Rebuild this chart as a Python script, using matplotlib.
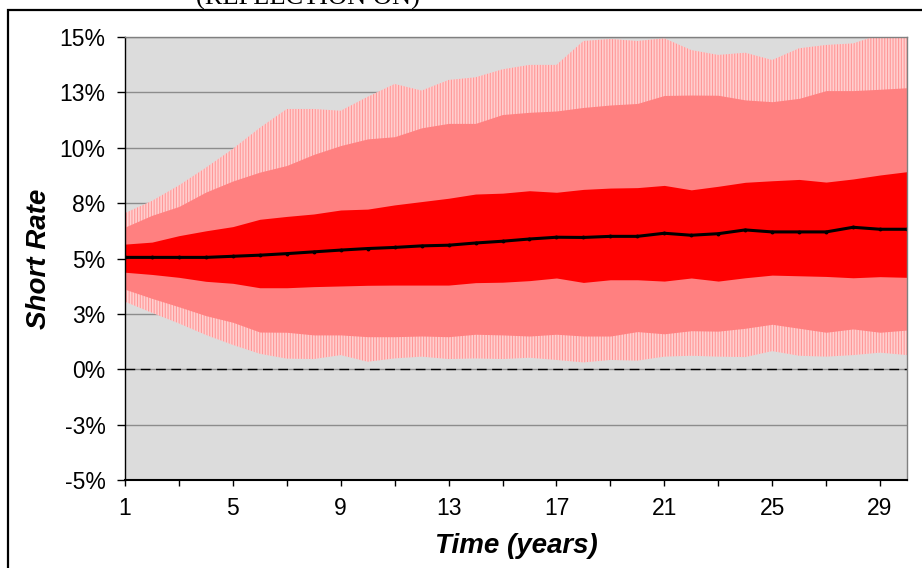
import matplotlib
matplotlib.use('Agg')
import matplotlib.pyplot as plt
from matplotlib.patches import Rectangle

# simulated short rate percentiles (in %)
years = list(range(1, 31))
median = [5.05, 5.05, 5.05, 5.05, 5.1, 5.15, 5.22, 5.3, 5.38, 5.45, 5.5, 5.57, 5.6, 5.7, 5.78,
          5.88, 5.96, 5.95, 6.0, 6.0, 6.14, 6.05, 6.12, 6.29, 6.2, 6.2, 6.2, 6.41, 6.32, 6.32]
inner_hi = [5.65, 5.74, 6.03, 6.25, 6.44, 6.77, 6.9, 7.01, 7.19, 7.23, 7.42, 7.57, 7.72, 7.91, 7.95,
            8.06, 7.99, 8.12, 8.18, 8.2, 8.3, 8.1, 8.26, 8.44, 8.51, 8.57, 8.45, 8.59, 8.77, 8.92]
inner_lo = [4.38, 4.28, 4.15, 3.97, 3.88, 3.68, 3.68, 3.73, 3.76, 3.79, 3.8, 3.8, 3.8, 3.91, 3.93,
            4.0, 4.12, 3.92, 4.04, 4.04, 3.98, 4.12, 3.98, 4.13, 4.25, 4.22, 4.19, 4.13, 4.18, 4.15]
mid_hi = [6.42, 6.95, 7.35, 8.0, 8.5, 8.9, 9.2, 9.7, 10.1, 10.4, 10.5, 10.9, 11.1, 11.1, 11.5,
          11.6, 11.66, 11.82, 11.93, 12.0, 12.36, 12.38, 12.37, 12.16, 12.08, 12.23, 12.58, 12.58, 12.64, 12.71]
mid_lo = [3.61, 3.2, 2.82, 2.42, 2.12, 1.68, 1.67, 1.55, 1.55, 1.47, 1.47, 1.5, 1.47, 1.58, 1.55,
          1.5, 1.58, 1.5, 1.5, 1.7, 1.6, 1.74, 1.72, 1.85, 2.03, 1.85, 1.67, 1.82, 1.67, 1.77]
outer_hi = [7.05, 7.6, 8.3, 9.1, 9.95, 10.9, 11.75, 11.75, 11.67, 12.3, 12.88, 12.58, 13.06, 13.18, 13.54,
            13.74, 13.74, 14.82, 14.91, 14.82, 14.94, 14.41, 14.19, 14.29, 13.96, 14.49, 14.64, 14.71, 15.1, 15.1]
outer_lo = [3.05, 2.55, 2.07, 1.55, 1.1, 0.7, 0.48, 0.46, 0.64, 0.34, 0.49, 0.57, 0.46, 0.49, 0.46,
            0.52, 0.42, 0.31, 0.42, 0.39, 0.57, 0.61, 0.57, 0.55, 0.82, 0.61, 0.57, 0.64, 0.75, 0.64]

ytick_vals = [-5, -2.5, 0, 2.5, 5, 7.5, 10, 12.5, 15]
ytick_labels = ['-5%', '-3%', '0%', '3%', '5%', '8%', '10%', '13%', '15%']
xtick_major = [1, 5, 9, 13, 17, 21, 25, 29]
xtick_minor = [3, 7, 11, 15, 19, 23, 27]

plt.rcParams['font.family'] = ['Liberation Sans', 'DejaVu Sans']
plt.rcParams['hatch.linewidth'] = 0.8

fig = plt.figure(figsize=(9.22, 5.68), dpi=100)
ax = fig.add_axes([125 / 922, 1 - 480 / 568, 782 / 922, 443 / 568])
ax.set_facecolor('#DCDCDC')

# gridlines behind the bands
for v in ytick_vals:
    ax.axhline(v, color='#8C8C8C', lw=1.0, zorder=1)

ax.fill_between(years, outer_lo, outer_hi, facecolor='#FFCFCF', edgecolor='#FF9898',
                hatch='||||||', lw=0, zorder=2)
ax.fill_between(years, mid_lo, mid_hi, color='#FF8080', lw=0, zorder=3)
ax.fill_between(years, inner_lo, inner_hi, color='#FF0000', lw=0, zorder=4)
ax.plot(years, median, color='black', lw=2.2, marker='o', ms=1.8, zorder=5)
ax.axhline(0, color='black', lw=1.0, ls=(0, (7, 4)), zorder=6)

ax.set_xlim(1, 30)
ax.set_ylim(-5, 15)
ax.set_yticks(ytick_vals)
ax.set_yticklabels(ytick_labels)
ax.set_xticks(xtick_major)
ax.set_xticks(xtick_minor, minor=True)
ax.tick_params(axis='y', direction='out', length=6, width=1, pad=8, labelsize=16.5)
ax.tick_params(axis='x', which='both', direction='out', length=4.5, width=1, pad=8, labelsize=16.5)

for side in ['top', 'right']:
    ax.spines[side].set_color('#808080')
    ax.spines[side].set_linewidth(1.0)
ax.spines['left'].set_color('black')
ax.spines['left'].set_linewidth(1.0)
ax.spines['bottom'].set_color('black')
ax.spines['bottom'].set_linewidth(1.5)
for s in ax.spines.values():
    s.set_zorder(7)

fig.text(39 / 922, 1 - 259 / 568, 'Short Rate', rotation=90, ha='center', va='center',
         fontsize=20, fontweight='bold', fontstyle='italic')
fig.text(516 / 922, 1 - 546 / 568, 'Time (years)', ha='center', va='center',
         fontsize=20, fontweight='bold', fontstyle='italic')

# title cut off at the top of the picture
fig.text(308 / 922, 1 - 5 / 568, '(REFLECTION ON)', ha='center', va='baseline',
         fontsize=19, family='Liberation Serif')

# chart border
fig.patches.append(Rectangle((8 / 922, -0.1), 1.2, 1.1 - 10 / 568, transform=fig.transFigure,
                             fill=False, edgecolor='black', lw=1.6))

fig.savefig('out.png', dpi=100)
